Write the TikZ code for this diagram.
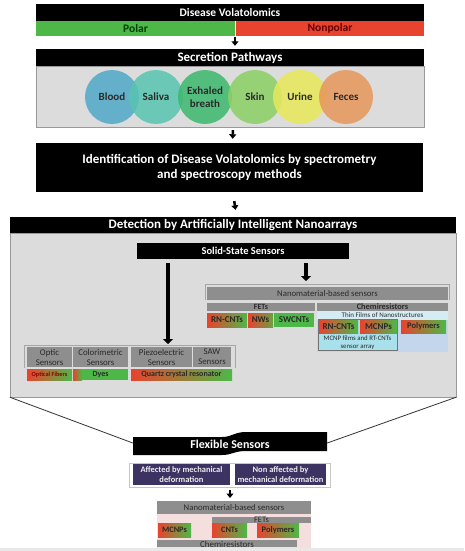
\documentclass[tikz,border=0pt]{standalone}
\usepackage{fontspec}
\setmainfont{Carlito}
\usetikzlibrary{arrows.meta}
\definecolor{myred}{HTML}{E8432E}
\definecolor{mygreen}{HTML}{4DB848}
\definecolor{gbar}{HTML}{8E8E8E}
\definecolor{dtext}{HTML}{2A2A2A}
\definecolor{panel}{HTML}{DCDCDC}
\definecolor{purp}{HTML}{3C3362}
\newcommand\fsz[2]{\fontsize{#1}{#2}\selectfont}
\tikzset{
  hdr/.style={fill=black, text=white, font=\bfseries\fsz{13}{15}, inner sep=0pt},
  gbox/.style={fill=gbar, text=dtext, inner sep=0pt, align=center},
  rg/.style={left color=myred, right color=mygreen, text=dtext, inner sep=0pt, font=\bfseries\fsz{9}{10}},
  gg/.style={fill=mygreen, text=dtext, inner sep=0pt, font=\bfseries\fsz{9}{10}},
  circ/.style={circle, minimum size=54pt, inner sep=0pt, fill opacity=0.85, text opacity=1, text=dtext, font=\bfseries\fsz{11}{12.5}, align=center},
  arr/.style={-{Triangle[width=7pt,length=4.5pt]}, line width=2.5pt},
  bigarr/.style={-{Triangle[width=10pt,length=5pt]}, line width=4pt},
  frameln/.style={draw=gray!70, line width=0.8pt},
  purpbox/.style={fill=purp, text=white!92!black, inner sep=0pt, align=center, font=\bfseries\fsz{8.5}{10}},
}
\begin{document}
\begin{tikzpicture}[x=1pt,y=-1pt]
\useasboundingbox[fill=white] (0,0) rectangle (464,551);
% ---- top
\node[hdr, font=\bfseries\fsz{11.5}{13}, minimum width=388pt, minimum height=17pt] (dv) at (230,12.5) {Disease Volatolomics};
\node[fill=mygreen, text=green!25!black, font=\bfseries\fsz{11.5}{13}, minimum width=199pt, minimum height=15pt, inner sep=0pt] (polar) at (135.5,28.5) {Polar};
\node[fill=myred, text=red!40!black, font=\bfseries\fsz{11.5}{13}, minimum width=188pt, minimum height=15pt, inner sep=0pt] (nonpolar) at (330,28.5) {Nonpolar};
% ---- secretion
\node[hdr, minimum width=388pt, minimum height=17pt] (sph) at (230,57.5) {Secretion Pathways};
\node[fill=panel, draw=gray!80, minimum width=388pt, minimum height=61pt, inner sep=0pt] (spb) at (230,96.5) {};
\node[circ, fill={rgb,255:red,80;green,168;blue,200}] (blood) at (112,97) {Blood};
\node[circ, fill={rgb,255:red,88;green,196;blue,176}] (saliva) at (156,97) {Saliva};
\node[circ, fill={rgb,255:red,60;green,184;blue,110}] (breath) at (205,97) {Exhaled\\breath};
\node[circ, fill={rgb,255:red,140;green,208;blue,100}] (skin) at (255,97) {Skin};
\node[circ, fill={rgb,255:red,232;green,232;blue,90}] (urine) at (300,97) {Urine};
\node[circ, fill={rgb,255:red,230;green,150;blue,90}] (feces) at (346,97) {Feces};
\coordinate (a1) at (235,36);
\draw[arr, shorten <=1.5pt, shorten >=3pt] (a1) -- (a1 |- sph.north);
% ---- identification
\node[hdr, minimum width=387pt, minimum height=49pt, align=center, font=\bfseries\fsz{13}{15.5}] (idb) at (229.5,167.5) {Identification of Disease Volatolomics by spectrometry\\and spectroscopy methods};
\draw[arr, shorten <=3pt, shorten >=4pt] ([xshift=3pt]spb.south) -- ([xshift=3pt]idb.north);
% ---- detection
\node[hdr, minimum width=446pt, minimum height=16pt] (deth) at (233,225) {Detection by Artificially Intelligent Nanoarrays};
\node[fill=panel, draw=gray!80, minimum width=446pt, minimum height=164pt, inner sep=0pt] (detb) at (233,315) {};
\draw[arr, shorten <=9pt, shorten >=7pt] ([xshift=3.5pt]idb.south) -- ([xshift=3.5pt]deth.north);
\node[hdr, minimum width=212pt, minimum height=16pt, font=\bfseries\fsz{10.5}{12}] (ss) at (243,251) {Solid-State Sensors};
% right block
\draw[frameln] (205,300) -- (205,284) -- (449,284) -- (449,300);
\coordinate (rft) at (306,283);
\draw[bigarr, shorten <=4pt, shorten >=2pt] (ss.south -| rft) -- (rft);
\node[gbox, minimum width=241pt, minimum height=13pt, font=\fsz{8.7}{10}] (nm) at (327.5,293.5) {Nanomaterial-based sensors};
\node[gbox, minimum width=108pt, minimum height=8pt, font=\bfseries\fsz{8}{8}] (fets) at (261,307) {FETs};
\node[gbox, minimum width=131pt, minimum height=8pt, font=\bfseries\fsz{8.4}{8}] (chem) at (382.5,307) {Chemiresistors};
\node[rg, minimum width=40pt, minimum height=14pt] (f1) at (227,320) {RN-CNTs};
\node[rg, left color=myred, right color=mygreen!80!myred, minimum width=25pt, minimum height=14pt] (f2) at (260.5,320) {NWs};
\node[gg, minimum width=40pt, minimum height=14pt] (f3) at (294,320) {SWCNTs};
\node[fill={rgb,255:red,196;green,214;blue,236}, minimum width=131pt, minimum height=41pt, inner sep=0pt] (chb) at (382.5,331.5) {};
\fill[fill={rgb,255:red,214;green,236;blue,244}] (317,311) rectangle (448,320);
\node[text=dtext, font=\fsz{7}{7}, inner sep=0pt] (thin) at (382.5,315.5) {Thin Films of Nanostructures};
\draw[draw=gray!90!black, line width=0.8pt, fill={rgb,255:red,168;green,224;blue,236}] (318,319.5) rectangle (397.5,350);
\node[rg, minimum width=39pt, minimum height=13pt] (c1) at (338.5,326.5) {RN-CNTs};
\node[rg, minimum width=37pt, minimum height=13pt] (c2) at (378.5,326.5) {MCNPs};
\node[rg, minimum width=45pt, minimum height=13pt, font=\bfseries\fsz{8.5}{10}] (c3) at (423.5,326.5) {Polymers};
\node[text=dtext, font=\fsz{6.8}{7.5}, inner sep=0pt, align=center, minimum width=79pt, minimum height=15pt] (mcnp) at (357.5,342.5) {MCNP films and RT-CNTs\\sensor array};
% left block
\draw[frameln] (24,368) -- (24,345) -- (235,345) -- (235,368);
\coordinate (lft) at (168,345);
\draw[bigarr, shorten <=4pt, shorten >=1pt] (ss.south -| lft) -- (lft);
\node[gbox, minimum width=45pt, minimum height=20pt, font=\fsz{8.8}{10}] (h1) at (49.5,357) {Optic\\Sensors};
\node[gbox, minimum width=55pt, minimum height=20pt, font=\fsz{8.8}{10}] (h2) at (100.5,357) {Colorimetric\\Sensors};
\node[gbox, minimum width=61pt, minimum height=20pt, font=\fsz{8.8}{10}] (h3) at (161.5,357) {Piezoelectric\\Sensors};
\node[gbox, minimum width=38pt, minimum height=20pt, font=\fsz{8.8}{10}] (h4) at (212,357) {SAW\\Sensors};
\node[rg, text=red!55!black, minimum width=45pt, minimum height=11pt, font=\bfseries\fsz{6.3}{7}] (b1) at (49.5,374.5) {Optical Fibers};
\shade[left color=myred, right color=mygreen] (73,369) rectangle (82,380);
\fill[mygreen] (82,369) rectangle (128,380);
\node[text=dtext, font=\bfseries\fsz{8}{9}, minimum width=55pt, minimum height=11pt, inner sep=0pt] (b2) at (100.5,374.5) {Dyes};
\node[rg, font=\bfseries\fsz{8}{9}, minimum width=101pt, minimum height=11pt] (b3) at (181.5,374.5) {Quartz crystal resonator};
% ---- flexible
\node[minimum width=194pt, minimum height=20pt, inner sep=0pt] (fs) at (230,443) {};
\draw[draw=gray!40!black, line width=0.8pt] (detb.south west) -- (fs.west);
\draw[draw=gray!40!black, line width=0.8pt] (detb.south east) -- (fs.east);
\fill[black] (133,437) -- (222,437) .. controls (232,437) and (234,432) .. (246,432) -- (327,432) -- (327,451) -- (246,451) .. controls (234,451) and (232,455) .. (222,455) -- (133,455) -- cycle;
\node[text=white, font=\bfseries\fsz{12}{13}, inner sep=0pt] (fst) at (230,444) {Flexible Sensors};
\draw[draw=gray!45, line width=0.8pt, fill=white] (129,463) rectangle (330,487);
\node[purpbox, minimum width=97pt, minimum height=21pt] (aff) at (181.5,474.5) {Affected by mechanical\\deformation};
\node[purpbox, minimum width=91pt, minimum height=21pt] (naff) at (280.5,474.5) {Non affected by\\mechanical deformation};
\coordinate (a5) at (230,487);
\draw[arr, shorten <=3pt, shorten >=3pt] (a5) -- (230,501);
\node[gbox, minimum width=154pt, minimum height=13pt, font=\fsz{8.7}{10}] (nm2) at (234,507.5) {Nanomaterial-based sensors};
\fill[fill={rgb,255:red,244;green,222;blue,222}] (157,514) rectangle (311,551);
\node[gbox, minimum width=99pt, minimum height=6pt] (fets2) at (261.5,520) {};
\node[text=dtext, font=\fsz{8.5}{9}, inner sep=0pt] at (261.5,519.5) {FETs};
\node[rg, font=\bfseries\fsz{8.3}{10}, minimum width=33pt, minimum height=14pt] (m1) at (174.5,530) {MCNPs};
\node[rg, font=\bfseries\fsz{8.3}{10}, minimum width=35pt, minimum height=14pt] (m2) at (229.5,530) {CNTs};
\node[rg, font=\bfseries\fsz{8.5}{10}, minimum width=42pt, minimum height=14pt] (m3) at (278,530) {Polymers};
\node[gbox, minimum width=140pt, minimum height=7pt] (chem2) at (227,543.5) {};
\node[text=dtext, font=\fsz{9}{10}, inner sep=0pt] at (227,544) {Chemiresistors};
\fill[gray!18] (0,548) rectangle (464,551);
\end{tikzpicture}
\end{document}
